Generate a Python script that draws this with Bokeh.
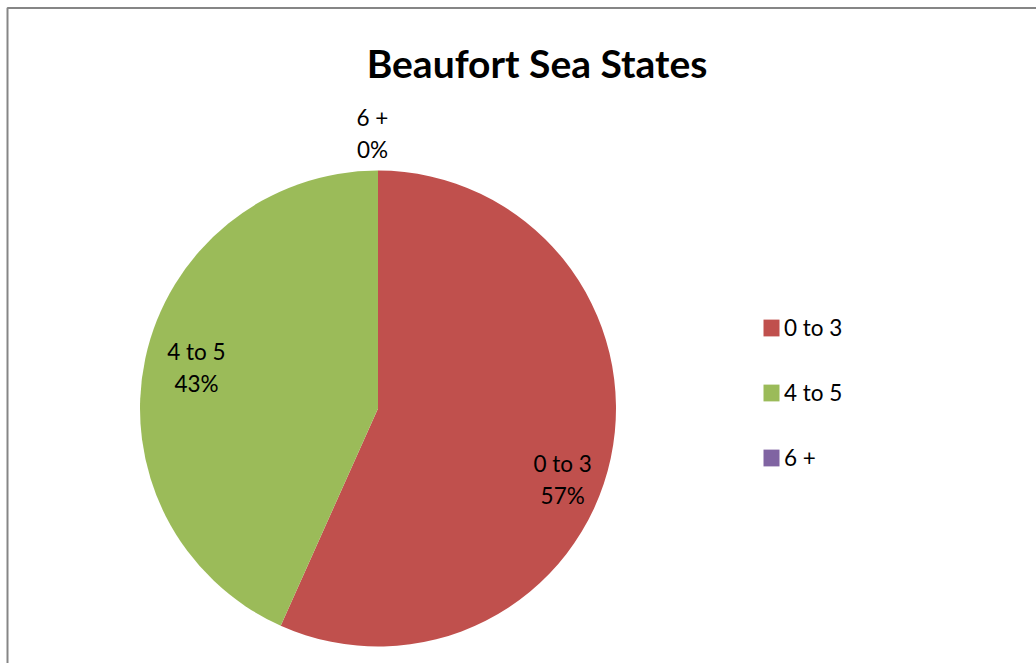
import math
from bokeh.plotting import figure
from bokeh.models import (Range1d, Label, Legend, LegendItem, ColumnDataSource,
                          CDSView, BooleanFilter, BoxAnnotation)
from bokeh.core.properties import value
from bokeh.embed import file_html
from bokeh.resources import INLINE

# ---- data ----
title = "Beaufort Sea States"
categories = ["0 to 3", "4 to 5", "6 +"]
values = [56.7, 43.3, 0.0]
colors = ["#C0504D", "#9BBB59", "#8064A2"]

# ---- layout (pixels) ----
W, H = 1036, 663
cx, cy, R = 377.5, H - 408, 238
FONT = "Lato"
FS = "22.5px"

total = sum(values)
fracs = [v / total for v in values]
starts, ends = [], []
acc = 0.0
for f in fracs:
    starts.append(math.pi / 2 - acc * 2 * math.pi)
    acc += f
    ends.append(math.pi / 2 - acc * 2 * math.pi)

pcts = ["%d%%" % round(f * 100) for f in fracs]

# label placement (Excel "best fit" style)
label_delta = [8.9, 0.67, -1.15]     # degrees shift from mid angle (clockwise)
label_rad = [0.831, 0.782, 1.156]
lx, ly = [], []
acc = 0.0
for i, f in enumerate(fracs):
    mid = (acc + f / 2) * 360 + label_delta[i]
    acc += f
    a = math.radians(mid)
    lx.append(cx + R * label_rad[i] * math.sin(a))
    ly.append(cy + R * label_rad[i] * math.cos(a))

src = ColumnDataSource(dict(cat=categories, val=values, color=colors,
                            start=starts, end=ends, pct=pcts, lx=lx, ly=ly))
view = CDSView(filter=BooleanFilter([v > 0 for v in values]))

p = figure(width=W, height=H, output_backend="svg", toolbar_location=None,
           x_range=Range1d(0, W), y_range=Range1d(0, H), min_border=0)
p.axis.visible = False
p.grid.visible = False
p.outline_line_color = None
p.background_fill_color = "white"
p.border_fill_color = "white"

p.wedge(x=cx, y=cy, radius=R, start_angle="start", end_angle="end",
        direction="clock", fill_color="color", line_color=None,
        source=src, view=view)
# renderer carrying every category for the legend swatches
leg_r = p.wedge(x=cx, y=cy, radius=0, start_angle="start", end_angle="start",
                fill_color="color", line_color=None, source=src)

p.text(x="lx", y="ly", text="cat", source=src, text_font=value(FONT),
       text_font_size=FS, text_align="center", text_baseline="alphabetic",
       y_offset=-16, text_color="black")
p.text(x="lx", y="ly", text="pct", source=src, text_font=value(FONT),
       text_font_size=FS, text_align="center", text_baseline="alphabetic",
       y_offset=16, text_color="black")

p.add_layout(Label(x=536.5, y=H - 62, text=title, text_font=FONT,
                   text_font_size="39px", text_font_style="bold",
                   text_align="center", text_baseline="alphabetic", text_color="black"))

legend = Legend(items=[LegendItem(label=c, renderers=[leg_r], index=i)
                       for i, c in enumerate(categories)],
                location=(761, 192), orientation="vertical",
                glyph_width=20, glyph_height=21,
                spacing=38, padding=0, margin=0, label_standoff=3,
                label_text_font=FONT, label_text_font_size=FS,
                label_text_color="black", border_line_color=None,
                background_fill_alpha=0)
p.add_layout(legend, "center")

p.add_layout(BoxAnnotation(left=7, right=W + 20, top=H - 7.5, bottom=-20,
                           fill_color=None, fill_alpha=0,
                           line_color="#868686", line_alpha=1.0, line_width=2))

open("out.html", "w").write(file_html(p, INLINE))
